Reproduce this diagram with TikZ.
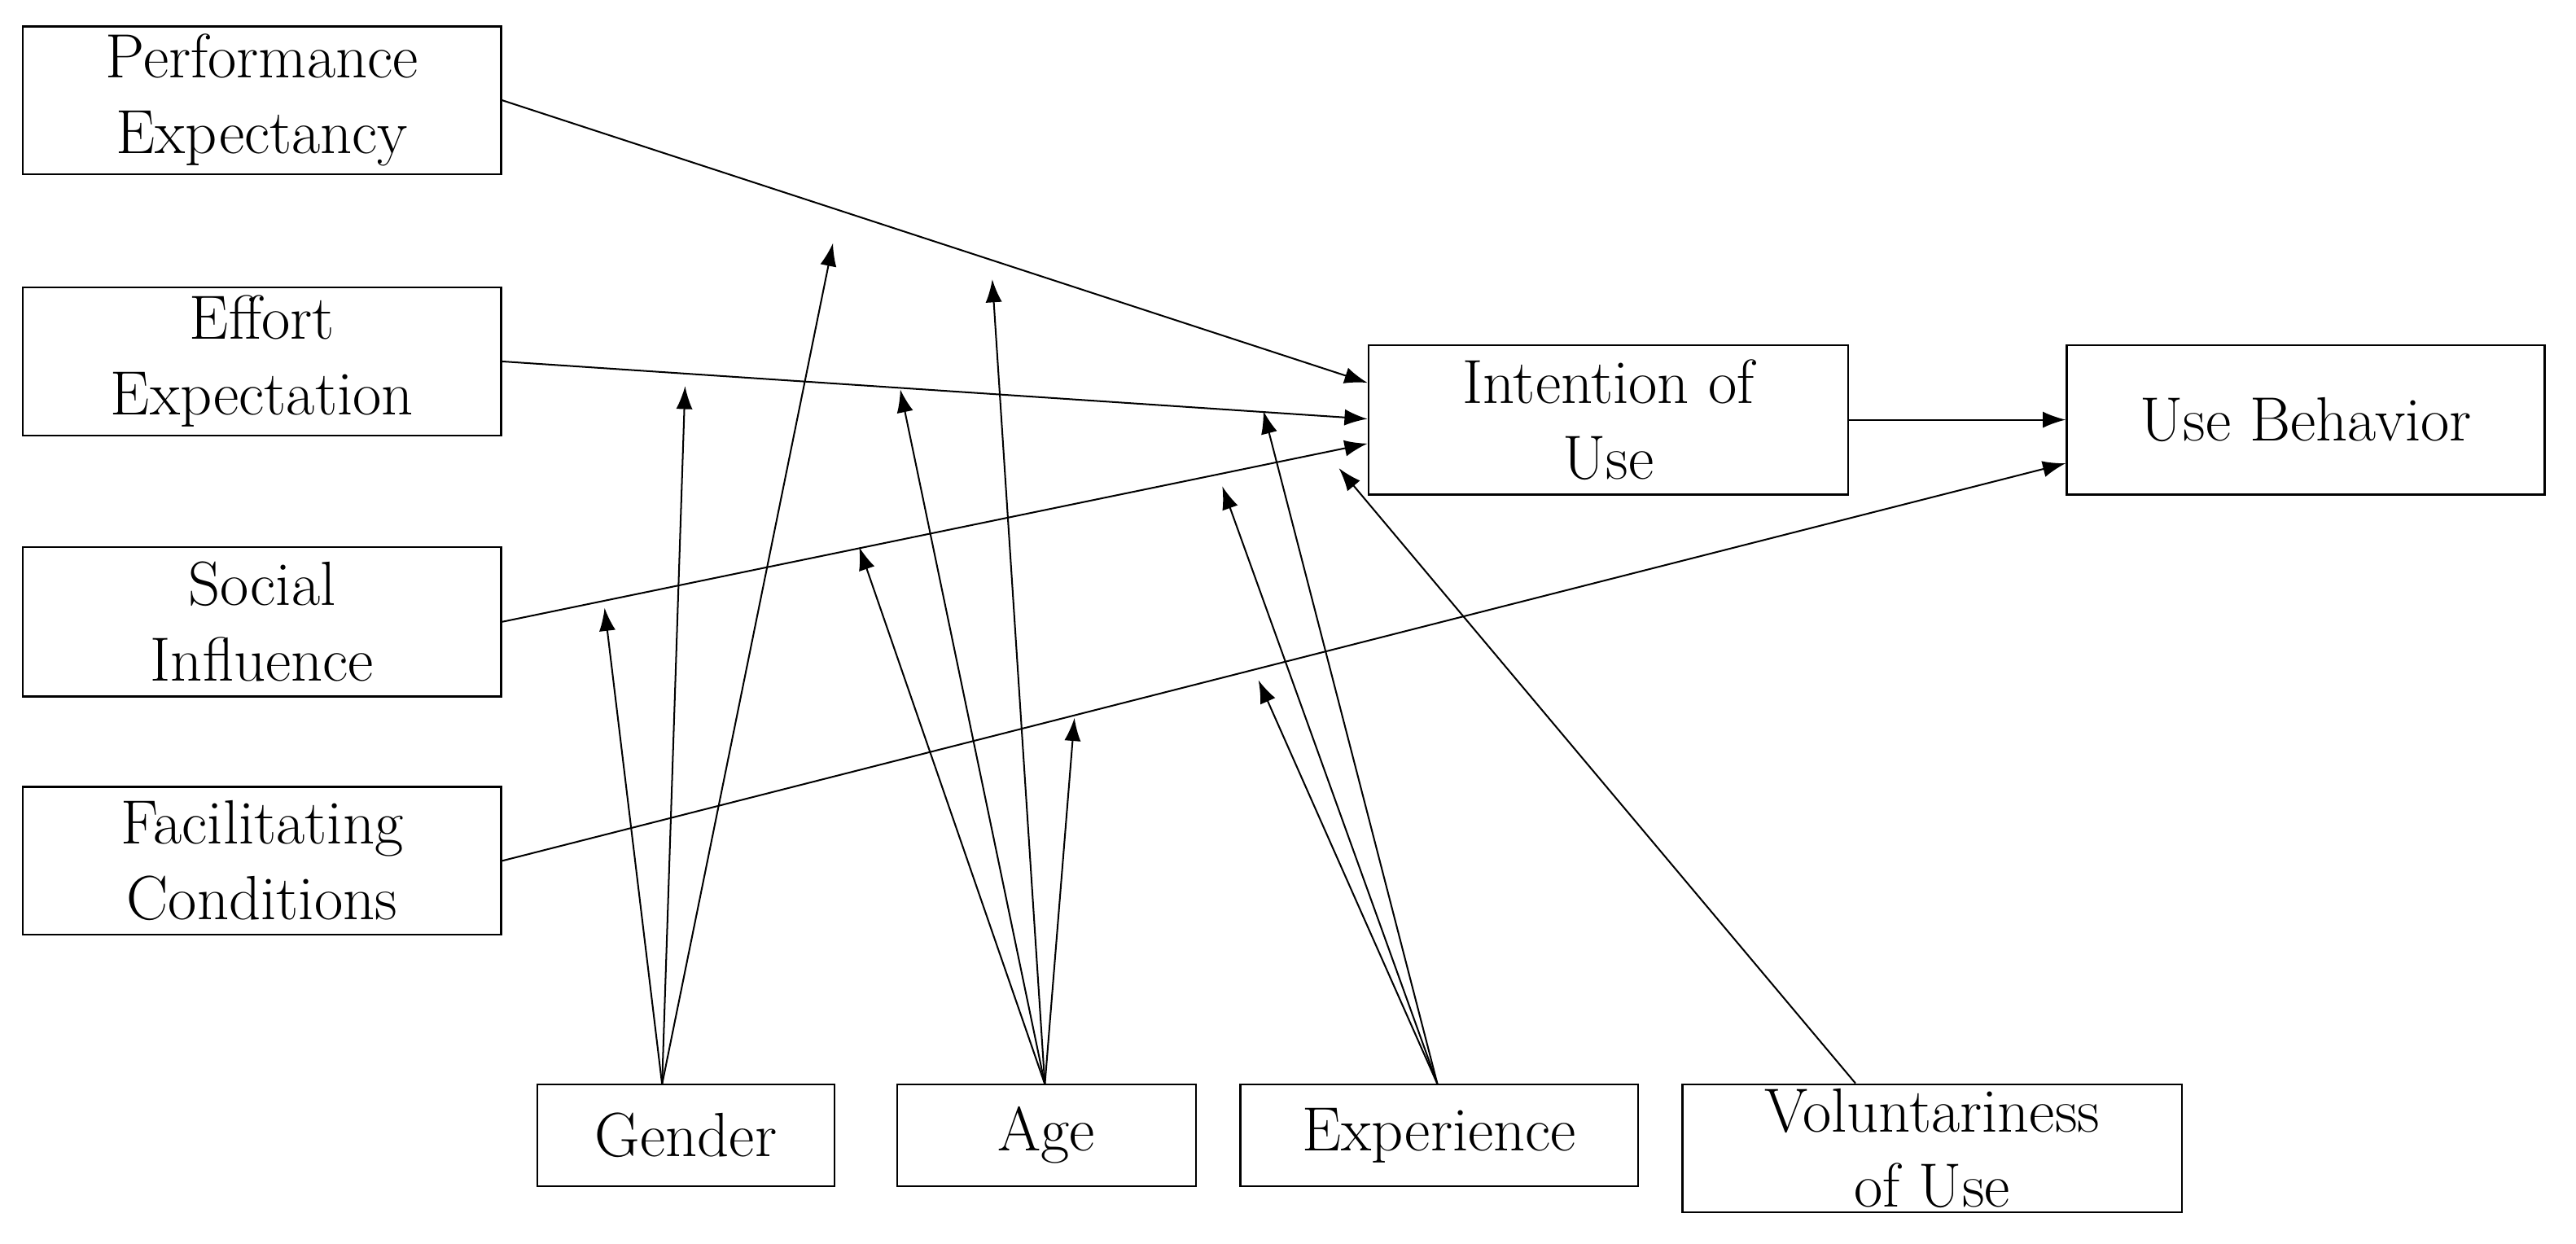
\documentclass[tikz,border=0pt]{standalone}
\usepackage{tikz}
\usetikzlibrary{arrows.meta}
\tikzset{
  box/.style={draw, line width=0.6pt, align=center, inner sep=1pt,
    font=\fontsize{19}{23}\selectfont},
  link/.style={line width=0.5pt, -{Latex[length=7pt,width=5pt]}}
}
\begin{document}
\begin{tikzpicture}[x=0.5pt,y=-0.5pt]
\useasboundingbox (0,0) rectangle (1568,757);

% constructs
\node[box, minimum width=145.5pt, minimum height=45pt] (perf) at (159.5,61) {Performance\\Expectancy};
\node[box, minimum width=145.5pt, minimum height=45pt] (effort) at (159.5,220) {Effort\\Expectation};
\node[box, minimum width=145.5pt, minimum height=45.5pt] (social) at (159.5,378.5) {Social\\Influence};
\node[box, minimum width=145.5pt, minimum height=45pt] (facil) at (159.5,524) {Facilitating\\Conditions};
\node[box, minimum width=146pt, minimum height=45.5pt] (intent) at (979,255.5) {Intention of\\Use};
\node[box, minimum width=145.5pt, minimum height=45.5pt] (behav) at (1403.5,255.5) {Use Behavior};

% moderators
\node[box, minimum width=90.5pt, minimum height=31pt] (gender) at (417.5,691) {Gender};
\node[box, minimum width=91pt, minimum height=31pt] (age) at (637,691) {Age};
\node[box, minimum width=121pt, minimum height=31pt] (exper) at (876,691) {Experience};
\node[box, minimum width=152pt, minimum height=39pt] (volun) at (1176,699) {Voluntariness\\of Use};

% main paths
\draw[link] (perf.east) -- (intent.west |- 0,233);
\draw[link] (effort.east) -- (intent.west |- 0,255);
\draw[link] (social.east) -- (intent.west |- 0,270);
\draw[link] (facil.east) -- (behav.west |- 0,282);
\draw[link] (intent.east) -- (behav.west);
\draw[link] (volun.north west) ++(106,0) coordinate (v0) (v0) -- (815,285) coordinate (v1);

% moderating arrows
\coordinate (g0) at (403,660);
\coordinate (a0) at (636,660);
\coordinate (e0) at (875,660);
\foreach \p in {(368,370),(417,235),(507,148)} \draw[link] (g0) -- \p;
\foreach \p in {(523,333),(548,237),(604,170),(654,437)} \draw[link] (a0) -- \p;
\foreach \p in {(744,296),(769,250),(766,414)} \draw[link] (e0) -- \p;

\end{tikzpicture}
\end{document}
